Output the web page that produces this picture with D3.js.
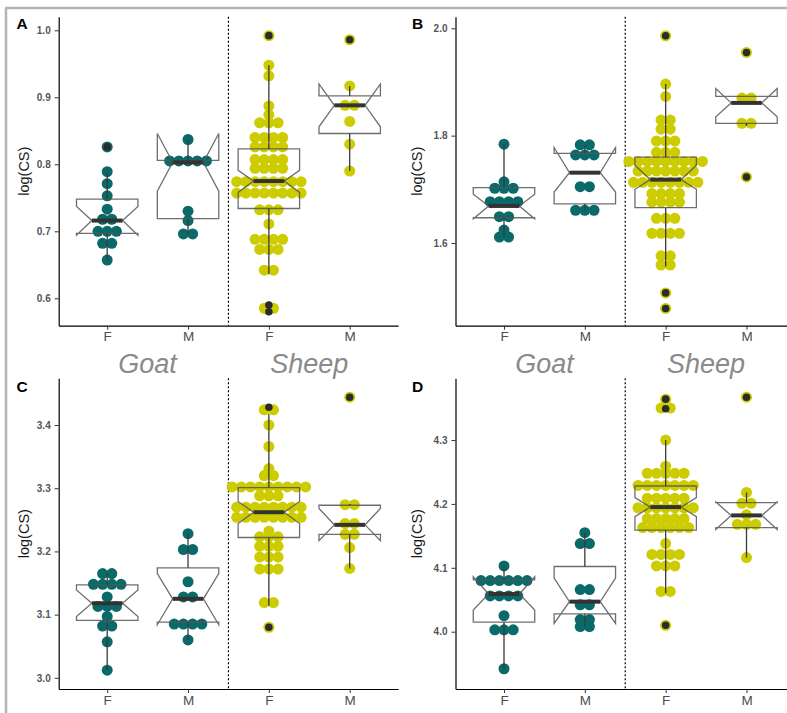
<!DOCTYPE html>
<html lang="en">
<head>
<meta charset="UTF-8">
<title>log(CS) by sex, goat and sheep</title>
<script src="https://d3js.org/d3.v7.min.js"></script>
<style>
  body { margin: 0; background: #fff; }
  svg { display: block; font-family: "Liberation Sans", Arial, sans-serif; }
</style>
</head>
<body>
<svg id="chart" width="787" height="713"></svg>
<script>
// categories
const sexes = ["F", "M", "F", "M"];
const speciesNames = ["Goat", "Sheep"];
const panelLetters = ["A", "B", "C", "D"];

// y axis ticks and limits for each panel
const yTicks = [[0.6, 0.7, 0.8, 0.9, 1.0], [1.6, 1.8, 2.0], [3.0, 3.1, 3.2, 3.3, 3.4], [4.0, 4.1, 4.2, 4.3]];
const yDomains = [[0.5591, 1.0203], [1.4459, 2.0216], [2.9823, 3.4739], [3.9103, 4.3966]];

// dot values per group: Goat F, Goat M, Sheep F, Sheep M
const dotsA = [
  [0.826, 0.789, 0.771, 0.753, 0.733, 0.718, 0.718, 0.700, 0.700, 0.700, 0.682, 0.682, 0.657],
  [0.837, 0.805, 0.805, 0.805, 0.805, 0.805, 0.730, 0.716, 0.696, 0.696],
  [0.992, 0.948, 0.932, 0.887, 0.874, 0.862, 0.862, 0.862, 0.840, 0.840, 0.840, 0.840,
   0.826, 0.826, 0.826, 0.826, 0.807, 0.807, 0.807, 0.807, 0.794, 0.794, 0.794, 0.794,
   0.774, 0.774, 0.774, 0.774, 0.774, 0.774, 0.774, 0.774,
   0.757, 0.757, 0.757, 0.757, 0.757, 0.757, 0.757, 0.757,
   0.732, 0.732, 0.732, 0.711, 0.688, 0.688, 0.688, 0.688, 0.673, 0.673, 0.673,
   0.642, 0.642, 0.585, 0.585],
  [0.986, 0.917, 0.888, 0.888, 0.864, 0.830, 0.790]
];
const dotsB = [
  [1.784, 1.714, 1.702, 1.702, 1.702, 1.677, 1.677, 1.677, 1.677, 1.649, 1.649, 1.624, 1.611, 1.611],
  [1.783, 1.783, 1.764, 1.764, 1.764, 1.705, 1.705, 1.661, 1.661, 1.661],
  [1.986, 1.896, 1.873, 1.829, 1.829, 1.812, 1.812, 1.790, 1.790, 1.790, 1.769, 1.769, 1.769,
   1.752, 1.752, 1.752, 1.752, 1.752, 1.752, 1.752, 1.752, 1.752,
   1.734, 1.734, 1.734, 1.734, 1.734, 1.734, 1.734,
   1.713, 1.713, 1.713, 1.713, 1.713, 1.713, 1.713, 1.713,
   1.692, 1.692, 1.692, 1.692, 1.676, 1.676, 1.676, 1.676, 1.646, 1.646, 1.646,
   1.618, 1.618, 1.618, 1.618, 1.576, 1.576, 1.559, 1.559, 1.507, 1.478],
  [1.955, 1.870, 1.870, 1.823, 1.823, 1.723]
];
const dotsC = [
  [3.165, 3.165, 3.148, 3.148, 3.148, 3.148, 3.128, 3.113, 3.113, 3.113, 3.097, 3.082, 3.082, 3.057, 3.012],
  [3.228, 3.203, 3.203, 3.152, 3.128, 3.128, 3.085, 3.085, 3.085, 3.085, 3.060],
  [3.424, 3.424, 3.400, 3.366, 3.331, 3.320, 3.320,
   3.302, 3.302, 3.302, 3.302, 3.302, 3.302, 3.302, 3.302, 3.302,
   3.288, 3.288, 3.288,
   3.270, 3.270, 3.270, 3.270, 3.270, 3.270, 3.270, 3.270,
   3.254, 3.254, 3.254, 3.254, 3.254, 3.254, 3.254, 3.254,
   3.232, 3.223, 3.223, 3.223, 3.208, 3.208, 3.208, 3.191, 3.191, 3.191,
   3.172, 3.172, 3.172, 3.119, 3.119, 3.080],
  [3.444, 3.274, 3.274, 3.244, 3.244, 3.227, 3.227, 3.206, 3.173]
];
const dotsD = [
  [4.103, 4.080, 4.080, 4.080, 4.080, 4.080, 4.080, 4.056, 4.056, 4.056, 4.056, 4.025, 4.003, 4.003, 4.003, 3.942],
  [4.155, 4.138, 4.138, 4.066, 4.066, 4.042, 4.042, 4.019, 4.019, 4.008, 4.008],
  [4.364, 4.350, 4.350, 4.300, 4.259, 4.248, 4.248, 4.248, 4.248, 4.248,
   4.229, 4.229, 4.229, 4.229, 4.229, 4.229, 4.229,
   4.209, 4.209, 4.209, 4.209, 4.209,
   4.194, 4.194, 4.194, 4.194, 4.194, 4.194, 4.194,
   4.177, 4.177, 4.177, 4.177, 4.177,
   4.163, 4.163, 4.163, 4.163, 4.163, 4.163,
   4.138, 4.121, 4.121, 4.121, 4.121, 4.103, 4.103, 4.103, 4.063, 4.063, 4.010],
  [4.367, 4.218, 4.201, 4.201, 4.183, 4.168, 4.168, 4.168, 4.116]
];

// box stats: [lower whisker, q1, notch low, median, notch high, q3, upper whisker]
const boxesA = [
  [0.657, 0.697, 0.694, 0.716, 0.737, 0.748, 0.789],
  [0.695, 0.719, 0.760, 0.803, 0.846, 0.806, 0.837],
  [0.636, 0.734, 0.758, 0.775, 0.791, 0.823, 0.948],
  [0.790, 0.846, 0.856, 0.888, 0.920, 0.902, 0.917]
];
const boxesB = [
  [1.610, 1.647, 1.645, 1.669, 1.691, 1.703, 1.784],
  [1.661, 1.673, 1.695, 1.731, 1.778, 1.767, 1.783],
  [1.556, 1.666, 1.700, 1.718, 1.745, 1.760, 1.896],
  [1.818, 1.823, 1.835, 1.861, 1.888, 1.873, 1.873]
];
const boxesC = [
  [3.012, 3.091, 3.097, 3.118, 3.139, 3.147, 3.166],
  [3.060, 3.088, 3.084, 3.125, 3.165, 3.174, 3.228],
  [3.114, 3.222, 3.244, 3.262, 3.279, 3.301, 3.418],
  [3.173, 3.227, 3.217, 3.242, 3.268, 3.273, 3.275]
];
const boxesD = [
  [3.942, 4.015, 4.034, 4.059, 4.086, 4.081, 4.103],
  [4.008, 4.028, 4.013, 4.047, 4.084, 4.102, 4.155],
  [4.060, 4.159, 4.180, 4.195, 4.210, 4.228, 4.300],
  [4.116, 4.163, 4.160, 4.182, 4.203, 4.202, 4.218]
];

// boxplot outliers
const outliersA = [[0.826], [], [0.992, 0.590, 0.580], [0.986]];
const outliersB = [[], [], [1.986, 1.507, 1.478], [1.955, 1.723]];
const outliersC = [[], [], [3.428, 3.080], [3.444]];
const outliersD = [[], [], [4.364, 4.349, 4.010], [4.367]];

const panels = [
  { dots: dotsA, boxes: boxesA, outliers: outliersA },
  { dots: dotsB, boxes: boxesB, outliers: outliersB },
  { dots: dotsC, boxes: boxesC, outliers: outliersC },
  { dots: dotsD, boxes: boxesD, outliers: outliersD }
];

const svg = d3.select("#chart");
const colX = [58.7, 455.5];
const rowY = [[16.7, 325.7], [378.3, 689]];
const titleX = [29, 422];
const letterX = [16.5, 412];
const letterY = [28.5, 391.5];
const plotW = 339.5;
const dotR = 5.5, dotStep = 9.2, boxW = 0.76;
const teal = "#0a6a6a", olive = "#cccc00";

// light frame on top and left
svg.append("line").attr("x1", 5).attr("x2", 787).attr("y1", 8).attr("y2", 8)
  .attr("stroke", "#b4b4b4").attr("stroke-width", 2.5);
svg.append("line").attr("x1", 6).attr("x2", 6).attr("y1", 8).attr("y2", 713)
  .attr("stroke", "#b4b4b4").attr("stroke-width", 2.5);

panels.forEach(function (p, i) {
  var col = i % 2, row = Math.floor(i / 2);
  var x0 = colX[col], yTop = rowY[row][0], yBot = rowY[row][1];
  var x = d3.scaleLinear().domain([0.4, 4.6]).range([x0, x0 + plotW]);
  var y = d3.scaleLinear().domain(yDomains[i]).range([yBot, yTop]);
  var g = svg.append("g");

  // dotted separator between species
  g.append("line")
    .attr("x1", x(2.5)).attr("x2", x(2.5))
    .attr("y1", yTop).attr("y2", yBot)
    .attr("stroke", "#000").attr("stroke-width", 1.2)
    .attr("stroke-dasharray", "2,2");

  // centred dot stacks
  p.dots.forEach(function (vals, j) {
    var rows = d3.rollups(vals, v => v.length, d => d);
    rows.forEach(function ([v, n]) {
      d3.range(n).forEach(function (k) {
        g.append("circle")
          .attr("cx", x(j + 1) + (k - (n - 1) / 2) * dotStep)
          .attr("cy", y(v))
          .attr("r", dotR)
          .attr("fill", j < 2 ? teal : olive);
      });
    });
  });

  // notched boxes
  p.boxes.forEach(function (b, j) {
    var lw = b[0], q1 = b[1], nl = b[2], med = b[3], nu = b[4], q3 = b[5], uw = b[6];
    var xl = x(j + 1 - boxW / 2), xr = x(j + 1 + boxW / 2);
    var xil = x(j + 1 - boxW / 4), xir = x(j + 1 + boxW / 4);
    var pts = [[xl, y(q3)], [xl, y(nu)], [xil, y(med)], [xl, y(nl)], [xl, y(q1)],
               [xr, y(q1)], [xr, y(nl)], [xir, y(med)], [xr, y(nu)], [xr, y(q3)]];
    g.append("path")
      .attr("d", d3.line()(pts) + "Z")
      .attr("fill", "none")
      .attr("stroke", "#555").attr("stroke-opacity", 0.85)
      .attr("stroke-width", 1.3)
      .attr("stroke-linejoin", "miter");
    g.append("line")
      .attr("x1", x(j + 1)).attr("x2", x(j + 1))
      .attr("y1", y(q3)).attr("y2", y(uw))
      .attr("stroke", "#3a3a3a").attr("stroke-width", 1.3);
    g.append("line")
      .attr("x1", x(j + 1)).attr("x2", x(j + 1))
      .attr("y1", y(q1)).attr("y2", y(lw))
      .attr("stroke", "#3a3a3a").attr("stroke-width", 1.3);
    g.append("line")
      .attr("x1", xil).attr("x2", xir)
      .attr("y1", y(med)).attr("y2", y(med))
      .attr("stroke", "#333").attr("stroke-width", 4);
  });

  // outliers
  p.outliers.forEach(function (vals, j) {
    vals.forEach(function (v) {
      g.append("circle")
        .attr("cx", x(j + 1)).attr("cy", y(v))
        .attr("r", 3.8).attr("fill", "#2b2b2b");
    });
  });

  // axes
  var yAxis = d3.axisLeft(y).tickValues(yTicks[i]).tickFormat(d3.format(".1f"))
    .tickSize(4).tickSizeOuter(0).tickPadding(4);
  var ya = g.append("g").attr("transform", "translate(" + x0 + ",0)").call(yAxis);
  var xAxis = d3.axisBottom(x).tickValues([1, 2, 3, 4]).tickFormat(d => sexes[d - 1])
    .tickSize(4).tickSizeOuter(0).tickPadding(2);
  var xa = g.append("g").attr("transform", "translate(0," + yBot + ")").call(xAxis);

  [ya, xa].forEach(function (a) {
    a.select(".domain").attr("stroke", "#000").attr("stroke-width", 1.2);
    a.selectAll(".tick line").attr("stroke", "#333").attr("stroke-width", 1);
    a.selectAll(".tick text").attr("fill", "#4d4d4d").attr("font-family", null);
  });
  ya.selectAll(".tick text").attr("font-size", 10).attr("font-weight", "bold").attr("fill", "#555");
  xa.selectAll(".tick text").attr("font-size", 13.5);

  // axis title
  g.append("text")
    .attr("transform", "translate(" + titleX[col] + "," + ((yTop + yBot) / 2) + ") rotate(-90)")
    .attr("text-anchor", "middle")
    .attr("font-size", 14.5)
    .attr("fill", "#1a1a1a")
    .text("log(CS)");

  // panel letter
  g.append("text")
    .attr("x", letterX[col]).attr("y", letterY[row])
    .attr("font-size", 15.5).attr("font-weight", "bold")
    .attr("fill", "#000")
    .text(panelLetters[i]);

  // species labels above the lower panels
  if (row === 1) {
    speciesNames.forEach(function (s, k) {
      g.append("text")
        .attr("x", x(1.5 + 2 * k)).attr("y", 373)
        .attr("text-anchor", "middle")
        .attr("font-size", 27).attr("font-style", "italic")
        .attr("fill", "#8a8a8a")
        .text(s);
    });
  }
});
</script>
</body>
</html>
